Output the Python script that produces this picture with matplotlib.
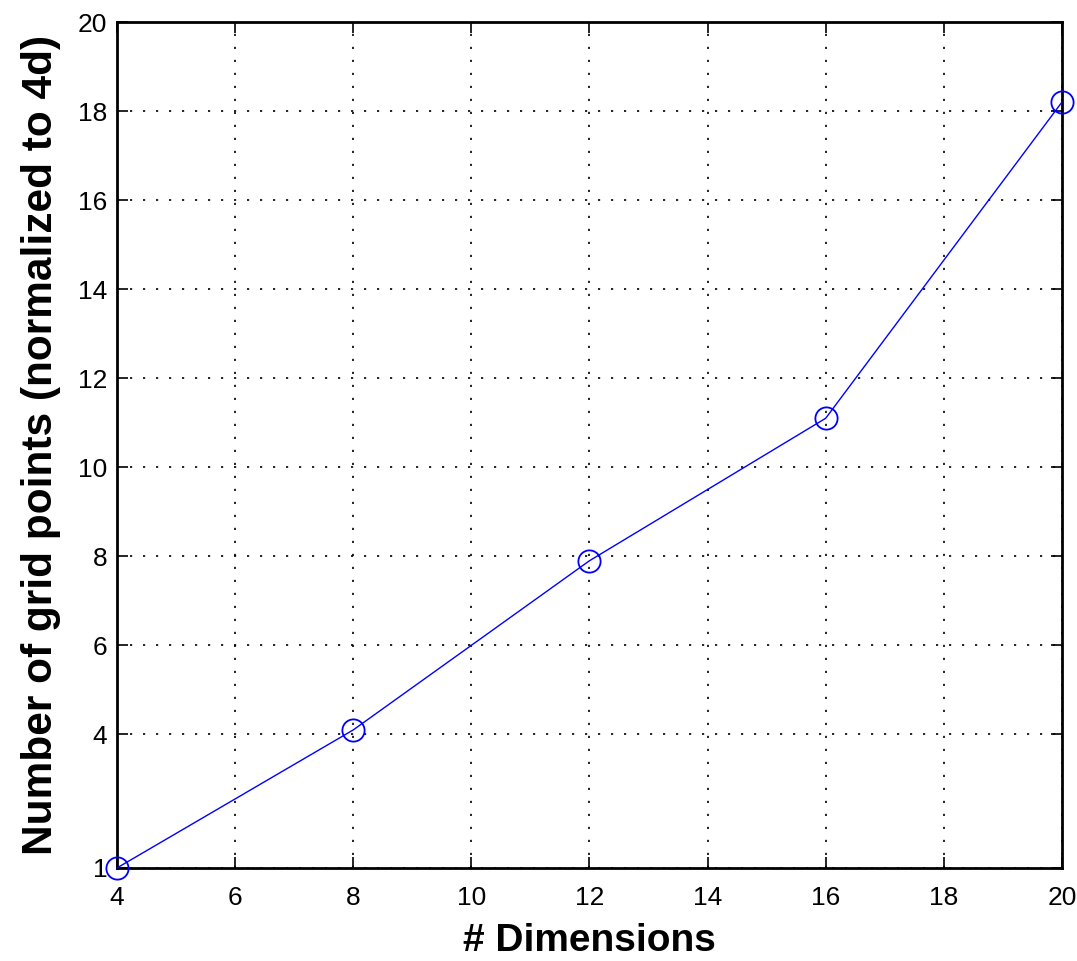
import matplotlib.pyplot as plt

# Daten
dimensions = [4, 8, 12, 16, 20]
grid_points = [1.0, 4.1, 7.9, 11.1, 18.2]

x_ticks = [4, 6, 8, 10, 12, 14, 16, 18, 20]
y_ticks = [1, 4, 6, 8, 10, 12, 14, 16, 18, 20]

plt.rcParams['font.family'] = ['Liberation Sans', 'DejaVu Sans']

fig = plt.figure(figsize=(10.77, 9.61), dpi=100)
ax = fig.add_axes([0.1086, 0.0968, 0.8774, 0.8803])

ax.plot(dimensions, grid_points, color='blue', linewidth=1.0, marker='o',
        markersize=16, markerfacecolor='none', markeredgecolor='blue',
        markeredgewidth=1.3, clip_on=False, zorder=3)

ax.set_xlim(4, 20)
ax.set_ylim(1, 20)
ax.set_xticks(x_ticks)
ax.set_yticks(y_ticks)

ax.grid(True, color='black', linestyle=(0, (1.3, 6.5)), linewidth=1.2)
ax.tick_params(direction='in', length=8, width=1.2, labelsize=19,
               top=True, right=True)
ax.tick_params(axis='x', pad=13)
ax.tick_params(axis='y', pad=7)
for s in ax.spines.values():
    s.set_linewidth(2)

ax.set_xlabel('# Dimensions', fontsize=28, fontweight='bold', labelpad=9)
ax.set_ylabel('Number of grid points (normalized to 4d)', fontsize=30.5,
              fontweight='bold', labelpad=12)

fig.savefig('out.png', dpi=100)
